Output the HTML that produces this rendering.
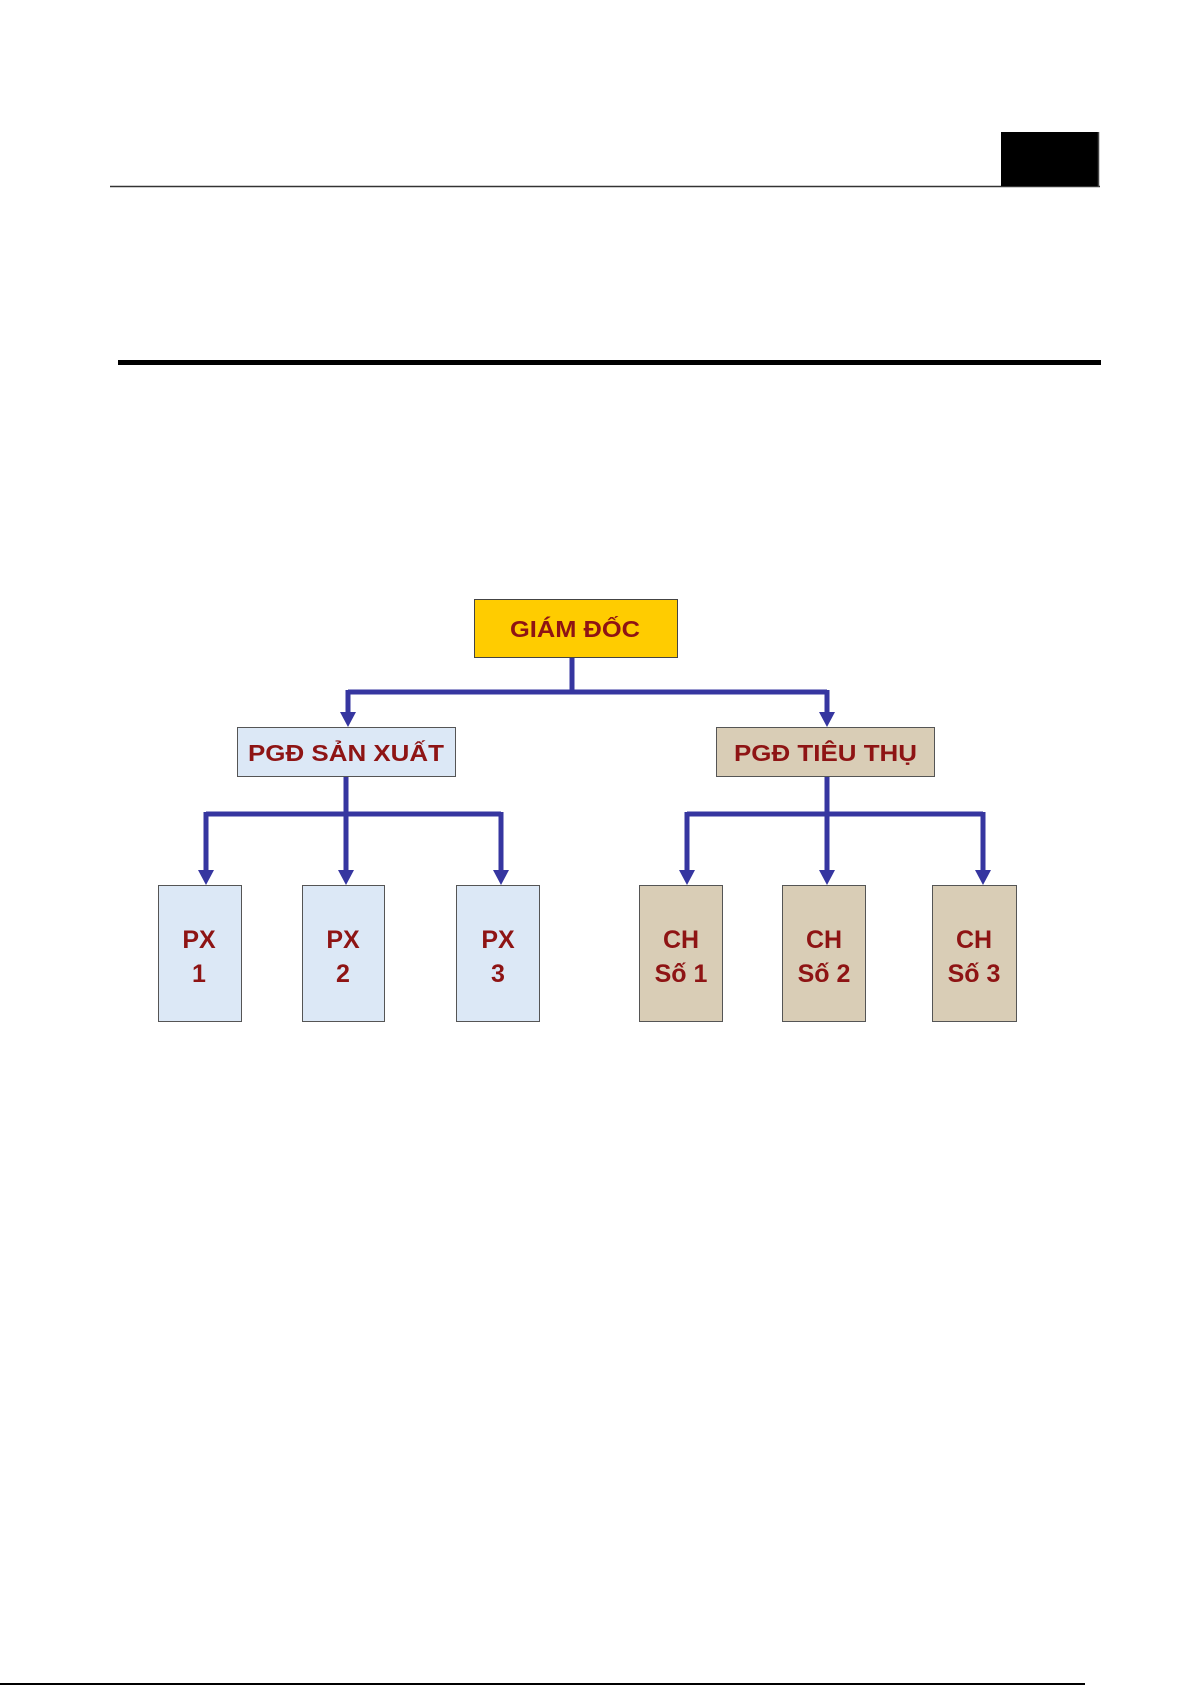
<!DOCTYPE html>
<html><head><meta charset="utf-8"><style>
html,body{margin:0;padding:0;background:#fff}
body{width:1192px;height:1685px;position:relative;overflow:hidden}
svg text{font-family:"Liberation Sans",sans-serif;font-weight:bold;fill:#8e1414}
</style></head><body>
<svg width="1192" height="1685" xmlns="http://www.w3.org/2000/svg">
<line x1="110" y1="186.5" x2="1100" y2="186.5" stroke="#333" stroke-width="1.5"/>
<rect x="1001" y="132" width="97" height="54" fill="#000"/>
<line x1="1098.5" y1="132" x2="1098.5" y2="187" stroke="#444" stroke-width="1.5"/>
<rect x="118" y="360" width="983" height="5" fill="#000"/>
<line x1="0" y1="1684" x2="1085" y2="1684" stroke="#000" stroke-width="2"/>

<g stroke="#3636a0" stroke-width="5" fill="none">
<polyline points="572,657 572,692"/>
<polyline points="348,692 827,692"/>
<line x1="348" y1="690" x2="348" y2="714"/>
<line x1="827" y1="690" x2="827" y2="714"/>
<polyline points="346,776 346,814"/>
<polyline points="206,814 501,814"/>
<line x1="206" y1="812" x2="206" y2="872"/>
<line x1="346" y1="812" x2="346" y2="872"/>
<line x1="501" y1="812" x2="501" y2="872"/>
<polyline points="827,776 827,814"/>
<polyline points="687,814 983,814"/>
<line x1="687" y1="812" x2="687" y2="872"/>
<line x1="827" y1="812" x2="827" y2="872"/>
<line x1="983" y1="812" x2="983" y2="872"/>
</g>
<g fill="#3636a0">
<polygon points="340,712 356,712 348,727"/>
<polygon points="819,712 835,712 827,727"/>
<polygon points="198,870 214,870 206,885"/>
<polygon points="338,870 354,870 346,885"/>
<polygon points="493,870 509,870 501,885"/>
<polygon points="679,870 695,870 687,885"/>
<polygon points="819,870 835,870 827,885"/>
<polygon points="975,870 991,870 983,885"/>
</g>

<rect x="474.5" y="599.5" width="203" height="58" fill="#ffcc00" stroke="#444"/>
<text x="510" y="637" font-size="23" textLength="130" lengthAdjust="spacingAndGlyphs">GIÁM ĐỐC</text>

<rect x="237.5" y="727.5" width="218" height="49" fill="#dce8f6" stroke="#555"/>
<text x="248" y="761" font-size="23" textLength="196" lengthAdjust="spacingAndGlyphs">PGĐ SẢN XUẤT</text>
<rect x="716.5" y="727.5" width="218" height="49" fill="#d9cdb6" stroke="#555"/>
<text x="734" y="761" font-size="23" textLength="183" lengthAdjust="spacingAndGlyphs">PGĐ TIÊU THỤ</text>

<g fill="#dce8f6" stroke="#555">
<rect x="158.5" y="885.5" width="83" height="136"/>
<rect x="302.5" y="885.5" width="82" height="136"/>
<rect x="456.5" y="885.5" width="83" height="136"/>
</g>
<g fill="#d9cdb6" stroke="#555">
<rect x="639.5" y="885.5" width="83" height="136"/>
<rect x="782.5" y="885.5" width="83" height="136"/>
<rect x="932.5" y="885.5" width="84" height="136"/>
</g>
<g font-size="25" text-anchor="middle">
<text x="199" y="948">PX</text><text x="199" y="982">1</text>
<text x="343" y="948">PX</text><text x="343" y="982">2</text>
<text x="498" y="948">PX</text><text x="498" y="982">3</text>
<text x="681" y="948">CH</text><text x="681" y="982">Số 1</text>
<text x="824" y="948">CH</text><text x="824" y="982">Số 2</text>
<text x="974" y="948">CH</text><text x="974" y="982">Số 3</text>
</g>
</svg>
</body></html>
